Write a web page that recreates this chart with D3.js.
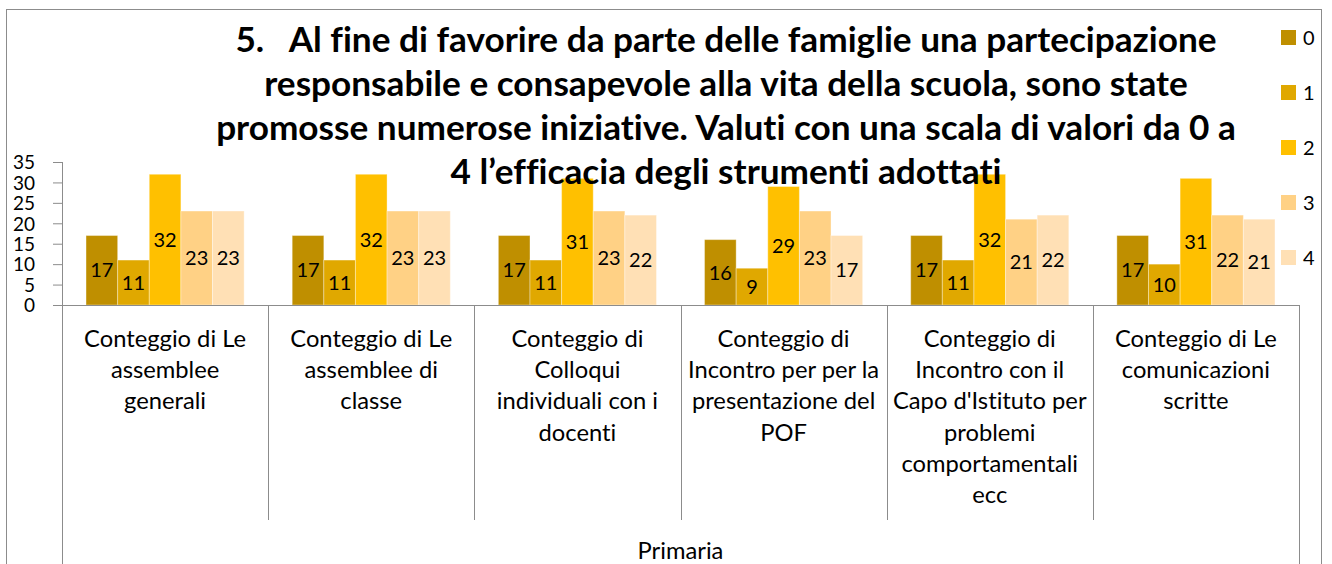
<!DOCTYPE html>
<html>
<head>
<meta charset="utf-8">
<script src="https://cdn.jsdelivr.net/npm/d3@7"></script>
<style>
  body { margin: 0; background: #fff; }
  svg text { font-family: Lato, "Open Sans", sans-serif; fill: #000; font-variant-ligatures: none; }
</style>
</head>
<body>
<div id="chart"></div>
<script>
(function(){
    var width = 1332,
        height = 564;

    // data
    var titleLines = [
      "5.   Al fine di favorire da parte delle famiglie una partecipazione",
      "responsabile e consapevole alla vita della scuola, sono state",
      "promosse numerose iniziative. Valuti con una scala di valori da 0 a",
      "4 l\u2019efficacia degli strumenti adottati"
    ]
    var categories = [
      ["Conteggio di Le", "assemblee", "generali"],
      ["Conteggio di Le", "assemblee di", "classe"],
      ["Conteggio di", "Colloqui", "individuali con i", "docenti"],
      ["Conteggio di", "Incontro per per la", "presentazione del", "POF"],
      ["Conteggio di", "Incontro con il", "Capo d'Istituto per", "problemi", "comportamentali", "ecc"],
      ["Conteggio di Le", "comunicazioni", "scritte"]
    ]
    var series = ["0", "1", "2", "3", "4"]
    var s0 = [17, 17, 17, 16, 17, 17]
    var s1 = [11, 11, 11, 9, 11, 10]
    var s2 = [32, 32, 31, 29, 32, 31]
    var s3 = [23, 23, 23, 23, 21, 22]
    var s4 = [23, 23, 22, 17, 22, 21]
    var values = [s0, s1, s2, s3, s4]
    var yTicks = [0, 5, 10, 15, 20, 25, 30, 35]
    var outerLabel = "Primaria"

    var colors = ["#bf8f00", "#e0a800", "#ffc000", "#ffd185", "#ffe0b5"]

    var svg = d3.select("#chart")
      .append("svg")
      .attr("width", width)
      .attr("height", height)

    // chart border
    svg.append("rect")
      .attr("x", 6.5).attr("y", 9.5)
      .attr("width", 1315).attr("height", 600)
      .attr("fill", "none")
      .attr("stroke", "#8c8c8c")

    var x0 = d3.scaleBand()
      .domain(d3.range(categories.length))
      .range([62, 1299])

    var x1 = d3.scaleBand()
      .domain(series)
      .range([0, x0.bandwidth()])
      .paddingOuter(0.76)

    var y = d3.scaleLinear()
      .domain([0, 35])
      .range([305, 162])

    // bars
    var groups = svg.selectAll(".grp")
      .data(categories)
      .enter().append("g")
      .attr("class", "grp")
      .attr("transform", function(d, i){ return "translate(" + x0(i) + ",0)" })

    groups.each(function(c, i){
      var g = d3.select(this)
      var row = series.map(function(s, k){ return {s: s, k: k, v: values[k][i]} })
      g.selectAll("rect")
        .data(row)
        .enter().append("rect")
        .attr("x", function(d){ return x1(d.s) })
        .attr("width", x1.bandwidth())
        .attr("y", function(d){ return y(d.v) })
        .attr("height", function(d){ return y(0) - y(d.v) })
        .attr("fill", function(d){ return colors[d.k] })
        .attr("stroke", "rgba(255,255,255,0.35)")
        .attr("stroke-width", 1)
      g.selectAll("text.val")
        .data(row)
        .enter().append("text")
        .attr("class", "val")
        .attr("x", function(d){ return x1(d.s) + x1.bandwidth()/2 })
        .attr("y", function(d){ return (y(d.v) + y(0))/2 })
        .attr("dy", "0.36em")
        .attr("text-anchor", "middle")
        .style("font-size", "20px")
        .text(function(d){ return d.v })
    })

    // y axis
    var yAxis = d3.axisLeft(y)
      .tickValues(yTicks)
      .tickSize(9)
      .tickPadding(18)
    var ya = svg.append("g")
      .attr("transform", "translate(62,0)")
      .call(yAxis)
    ya.select(".domain").remove()
    ya.selectAll("line").attr("stroke", "#8c8c8c")
    ya.selectAll("text")
      .style("font-size", "19px")
      .style("font-family", "Lato, sans-serif")
      .attr("fill", "#000")
      .attr("dy", "0.36em")

    var axisColor = "#8c8c8c"
    // vertical axis line, full height
    svg.append("line")
      .attr("x1", 62.5).attr("x2", 62.5)
      .attr("y1", y(35)).attr("y2", height)
      .attr("stroke", axisColor)
    // horizontal axis
    svg.append("line")
      .attr("x1", 53).attr("x2", 1299)
      .attr("y1", y(0) + 0.5).attr("y2", y(0) + 0.5)
      .attr("stroke", axisColor)
    // category separators
    svg.selectAll(".sep")
      .data(d3.range(1, categories.length + 1))
      .enter().append("line")
      .attr("class", "sep")
      .attr("x1", function(i){ return Math.round(x0.step() * i + 62) + 0.5 })
      .attr("x2", function(i){ return Math.round(x0.step() * i + 62) + 0.5 })
      .attr("y1", y(0))
      .attr("y2", function(i){ return i === categories.length ? height : 520 })
      .attr("stroke", axisColor)

    // fit helper: scale font so that widest text hits target width
    function fitSize(sel, base, target){
      var w = 0
      sel.style("font-size", base + "px").each(function(){
        w = Math.max(w, this.getComputedTextLength())
      })
      var s = base * target / w
      sel.style("font-size", s + "px")
      return s
    }

    // category labels
    var catText = svg.selectAll(".cat")
      .data(categories)
      .enter().append("text")
      .attr("class", "cat")
      .attr("text-anchor", "middle")
      .attr("x", function(d, i){ return x0(i) + x0.bandwidth()/2 })
      .attr("y", 347)
    catText.selectAll("tspan")
      .data(function(d){ return d })
      .enter().append("tspan")
      .attr("x", function(){ return d3.select(this.parentNode).attr("x") })
      .attr("dy", function(d, j){ return j === 0 ? 0 : 31.2 })
      .text(function(d){ return d })
    // match width of "Conteggio di Le"
    var probe = svg.append("text").text("Conteggio di Le")
    var cs = fitSize(probe, 20, 162)
    probe.remove()
    catText.style("font-size", cs + "px")

    svg.append("text")
      .attr("x", x0.range()[0] + (x0.range()[1] - x0.range()[0])/2)
      .attr("y", 559)
      .attr("text-anchor", "middle")
      .style("font-size", cs + "px")
      .text(outerLabel)

    // title
    var title = svg.selectAll(".title")
      .data(titleLines)
      .enter().append("text")
      .attr("class", "title")
      .attr("x", 726)
      .attr("y", function(d, i){ return 52 + i * 44 })
      .attr("text-anchor", "middle")
      .style("font-weight", "bold")
      .style("white-space", "pre")
      .attr("xml:space", "preserve")
      .text(function(d){ return d })
    fitSize(title, 28, 1020)

    // legend
    var leg = svg.selectAll(".leg")
      .data(series)
      .enter().append("g")
      .attr("class", "leg")
      .attr("transform", function(d, i){ return "translate(1281," + (30 + i * 55) + ")" })
    leg.append("rect")
      .attr("width", 15).attr("height", 15)
      .attr("fill", function(d, i){ return colors[i] })
    leg.append("text")
      .attr("x", 22).attr("y", 7.5)
      .attr("dy", "0.36em")
      .style("font-size", "20px")
      .text(function(d){ return d })
})();
</script>
</body>
</html>
